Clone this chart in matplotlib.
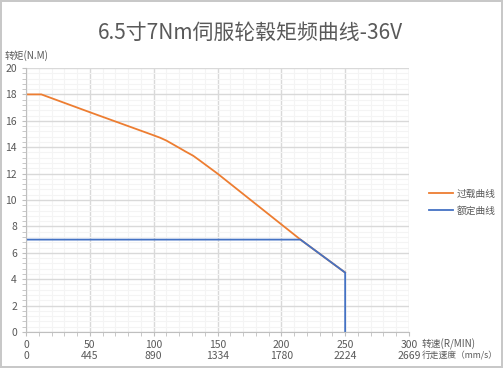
import numpy as np
import matplotlib.pyplot as plt
from matplotlib.ticker import MultipleLocator

plt.rcParams['font.family'] = ['Noto Sans CJK SC', 'DejaVu Sans']

# data
overload_rpm = [0, 12, 50, 100, 105, 110, 120, 125, 131, 136, 143, 150, 215, 250]
overload_nm = [18, 18, 16.65, 14.9, 14.72, 14.5, 13.95, 13.67, 13.35, 13.0, 12.5, 12.0, 7.0, 4.5]
rated_rpm = [0, 215, 250, 250]
rated_nm = [7, 7, 4.5, 0]
rpm_ticks = [0, 50, 100, 150, 200, 250, 300]
speed_ticks = [0, 445, 890, 1334, 1780, 2224, 2669]

grey = '#595959'

fig = plt.figure(figsize=(5.03, 3.68), dpi=100)
fig.patch.set_edgecolor('#c8c8c8')
fig.patch.set_linewidth(1.5)
ax = fig.add_axes([26/503, 1-332/368, (409-26)/503, (332-68)/368])

ax.plot(overload_rpm, overload_nm, color='#ed7d31', lw=1.3, label='过载曲线')
ax.plot(rated_rpm, rated_nm, color='#4472c4', lw=1.3, label='额定曲线')

ax.set_xlim(0, 300)
ax.set_ylim(0, 20)
ax.xaxis.set_major_locator(MultipleLocator(50))
ax.xaxis.set_minor_locator(MultipleLocator(10))
ax.yaxis.set_major_locator(MultipleLocator(2))
ax.yaxis.set_minor_locator(MultipleLocator(0.4))
ax.grid(which='major', color='#d9d9d9', lw=1)
ax.grid(which='minor', color='#f4f4f4', lw=0.8)
ax.set_axisbelow(True)

ax.set_xticks(rpm_ticks)
ax.set_xticklabels([f'{a}\n{b}' for a, b in zip(rpm_ticks, speed_ticks)],
                   linespacing=1.1)
ax.tick_params(axis='both', which='both', colors='#bfbfbf', labelcolor=grey,
               labelsize=7.5, length=3)
ax.tick_params(axis='x', which='both', pad=3)
for s in ['top', 'right']:
    ax.spines[s].set_visible(False)
ax.spines['left'].set_color('#bfbfbf')
ax.spines['bottom'].set_color('#bfbfbf')

fig.text(250/503, 1-33/368, '6.5寸7Nm伺服轮毂矩频曲线-36V', ha='center', va='center',
         fontsize=15, color=grey)
fig.text(5/503, 1-56/368, '转矩(N.M)', ha='left', va='center', fontsize=7, color=grey)
fig.text(422/503, 1-344/368, '转速(R/MIN)', ha='left', va='center', fontsize=7, color=grey)
fig.text(422/503, 1-356/368, '行走速度（mm/s）', ha='left', va='center', fontsize=6.3, color=grey)

fig.legend(loc='center left', bbox_to_anchor=(420/503, 1-202/368), frameon=False,
           fontsize=7, handlelength=2.5, handletextpad=0.4, labelcolor=grey,
           labelspacing=0.7)

fig.savefig('out.png', dpi=100)
